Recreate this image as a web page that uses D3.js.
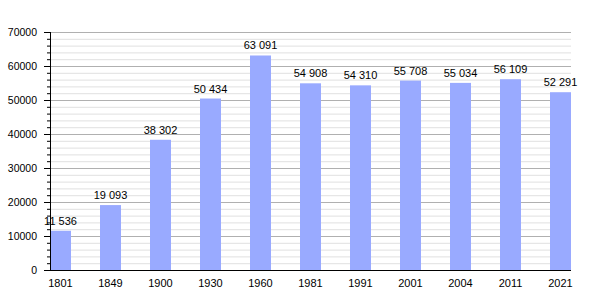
<!DOCTYPE html>
<html>
<head>
<meta charset="utf-8">
<script src="https://cdn.jsdelivr.net/npm/d3@7"></script>
<style>
  body { margin: 0; background: #fff; }
  text { font-family: "Liberation Sans", Arial, sans-serif; font-size: 11px; fill: #000; }
</style>
</head>
<body>
<svg width="600" height="300"></svg>
<script>
/* Data */
const years = ['1801', '1849', '1900', '1930', '1960', '1981', '1991', '2001', '2004', '2011', '2021'];
const population = [11536, 19093, 38302, 50434, 63091, 54908, 54310, 55708, 55034, 56109, 52291];
const yTicks = [0, 10000, 20000, 30000, 40000, 50000, 60000, 70000];

/* Layout */
const plotLeft = 50, plotRight = 571, plotTop = 32, plotBottom = 270;
const svg = d3.select('svg');

/* Scales */
const x = d3.scaleBand()
  .domain(years)
  .range([plotLeft, plotRight])
  .paddingInner(0.58)
  .paddingOuter(0);

const y = d3.scaleLinear()
  .domain([0, 70000])
  .range([plotBottom, plotTop]);

const minor = d3.range(0, 70001, 2000);
const fmt = v => d3.format(',')(v).replace(/,/g, ' ');

/* Grid */
svg.append('g')
  .selectAll('line').data(minor.filter(v => v % 10000 !== 0))
  .enter().append('line')
  .attr('x1', plotLeft).attr('x2', plotRight)
  .attr('y1', d => y(d) + 0.5).attr('y2', d => y(d) + 0.5)
  .attr('stroke', '#e0e0e0');

svg.append('g')
  .selectAll('line').data(yTicks.filter(v => v > 0))
  .enter().append('line')
  .attr('x1', plotLeft).attr('x2', plotRight)
  .attr('y1', d => y(d) + 0.5).attr('y2', d => y(d) + 0.5)
  .attr('stroke', '#b0b0b0');

/* Bars */
svg.append('g')
  .selectAll('rect').data(population)
  .enter().append('rect')
  .attr('x', (d, i) => x(years[i]))
  .attr('width', x.bandwidth())
  .attr('y', d => y(d))
  .attr('height', d => y(0) - y(d))
  .attr('fill', '#99aaff');

/* Value labels */
svg.append('g')
  .selectAll('text').data(population)
  .enter().append('text')
  .attr('x', (d, i) => x(years[i]) + x.bandwidth() / 2)
  .attr('y', d => y(d) - 6)
  .attr('text-anchor', 'middle')
  .text(d => fmt(d));

/* Y axis */
const yAxis = svg.append('g');
yAxis.selectAll('line.minor').data(minor)
  .enter().append('line')
  .attr('x1', plotLeft - 3).attr('x2', plotLeft)
  .attr('y1', d => y(d) + 0.5).attr('y2', d => y(d) + 0.5)
  .attr('stroke', '#000');
yAxis.selectAll('line.major').data(yTicks)
  .enter().append('line')
  .attr('x1', plotLeft - 6).attr('x2', plotLeft)
  .attr('y1', d => y(d) + 0.5).attr('y2', d => y(d) + 0.5)
  .attr('stroke', '#000');
yAxis.selectAll('text').data(yTicks)
  .enter().append('text')
  .attr('x', plotLeft - 13)
  .attr('y', d => y(d) + 4)
  .attr('text-anchor', 'end')
  .style('font-size', '10.5px')
  .text(d => d);
yAxis.append('line')
  .attr('x1', plotLeft + 0.5).attr('x2', plotLeft + 0.5)
  .attr('y1', plotTop).attr('y2', plotBottom + 1)
  .attr('stroke', '#000');

/* X axis */
svg.append('line')
  .attr('x1', plotLeft).attr('x2', plotRight)
  .attr('y1', plotBottom + 0.5).attr('y2', plotBottom + 0.5)
  .attr('stroke', '#000');
svg.append('g')
  .selectAll('text').data(years)
  .enter().append('text')
  .attr('x', d => x(d) + x.bandwidth() / 2)
  .attr('y', plotBottom + 17)
  .attr('text-anchor', 'middle')
  .text(d => d);
</script>
</body>
</html>
